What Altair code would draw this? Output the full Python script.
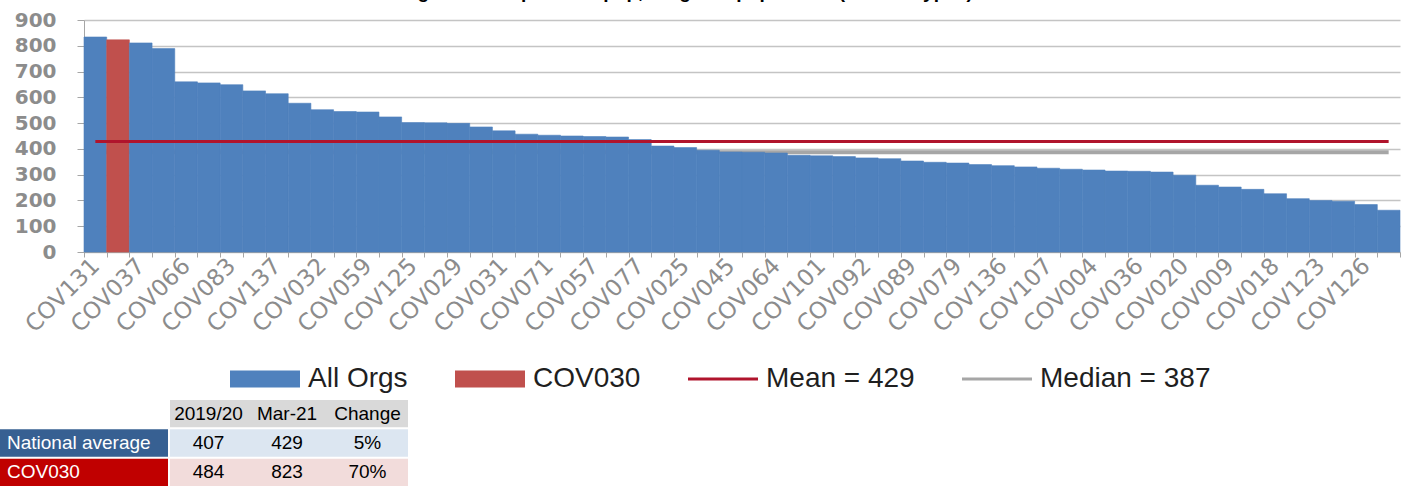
import json
import altair as alt
import pandas as pd

# ---------------- data ----------------
org_values = [834, 823, 811, 789, 660, 656, 649, 625, 614, 577,
              552, 545, 543, 524, 502, 501, 499, 485, 470, 457,
              453, 450, 448, 446, 436, 411, 405, 395, 388, 387,
              384, 375, 373, 370, 365, 362, 353, 348, 345, 339,
              335, 330, 325, 321, 318, 314, 313, 310, 298, 259,
              252, 243, 226, 207, 200, 197, 184, 162]
axis_labels = ["COV131", "COV037", "COV066", "COV083", "COV137", "COV032",
               "COV059", "COV125", "COV029", "COV031", "COV071", "COV057",
               "COV077", "COV025", "COV045", "COV064", "COV101", "COV092",
               "COV089", "COV079", "COV136", "COV107", "COV004", "COV036",
               "COV020", "COV009", "COV018", "COV123", "COV126"]
y_ticks = [0, 100, 200, 300, 400, 500, 600, 700, 800, 900]
highlight_org = "COV030"
highlight_rank = 2
mean_value = 429
median_value = 387
series_names = ["All Orgs", highlight_org, f"Mean = {mean_value}", f"Median = {median_value}"]
series_colors = ["#4F81BD", "#C0504D", "#B0142C", "#A6A6A6"]

tbl_header = ["2019/20", "Mar-21", "Change"]
tbl_rows = ["National average", highlight_org]
tbl_2019 = [407, 484]
tbl_mar21 = [429, 823]
tbl_change = ["5%", "70%"]
title_text = "Nursing caseload per 100k pop, weighted population (all staff types)"

# ---------------- layout / style ----------------
FONT = "Liberation Sans"
AXIS_FONT = "DejaVu Sans"
PLOT_W, PLOT_H = 1316, 232
Y_AXIS_EXTENT = 84
TABLE_W, TABLE_H = 408, 86
col_edges = [(0, 168), (170, 247), (247, 327), (327, 408)]
row_bg = {"h": ["none", "#D9D9D9", "#D9D9D9", "#D9D9D9"],
          "a": ["#376092", "#DCE6F1", "#DCE6F1", "#DCE6F1"],
          "b": ["#C00000", "#F2DCDB", "#F2DCDB", "#F2DCDB"]}
rect_path = "M-1,-0.243H1V0.243H-1Z"
line_path = "M-1,-0.045H1V0.045H-1Z"

# ---------------- tables for the library ----------------
n = len(org_values)
ranks = list(range(1, n + 1))
bars_df = pd.DataFrame({
    "rank": ranks,
    "value": org_values,
    "series": [series_names[1] if r == highlight_rank else series_names[0] for r in ranks],
})
mean_df = pd.DataFrame({"rank": ranks, "value": [mean_value] * n, "series": series_names[2]})
median_df = pd.DataFrame({"rank": ranks, "value": [median_value] * n, "series": series_names[3]})
all_df = pd.concat([bars_df, mean_df, median_df], ignore_index=True)

tick_text = [axis_labels[i // 2] if (i % 2 == 0 and i // 2 < len(axis_labels)) else "" for i in range(n)]
label_expr = json.dumps(tick_text) + "[datum.value - 1]"

color_scale = alt.Scale(domain=series_names, range=series_colors)
shape_scale = alt.Scale(domain=series_names, range=[rect_path, rect_path, line_path, line_path])

legend = alt.Legend(
    title=None, orient="none", legendX=146, legendY=324, direction="horizontal",
    symbolSize=4900, symbolStrokeWidth=0, symbolOpacity=1,
    labelFont=FONT, labelFontSize=28, labelColor="#1F1F1F", labelOffset=8,
    columnPadding=47, labelLimit=400,
)

x_axis = alt.Axis(
    title=None, labelExpr=label_expr, labelAngle=-45, labelAlign="right",
    labelBaseline="middle", labelFont=AXIS_FONT, labelFontSize=23, labelColor="#8C8C8C",
    labelPadding=5, labelOverlap=False, tickBand="extent", tickSize=5,
    tickColor="#A6A6A6", domainColor="#A6A6A6", grid=False,
)
y_axis = alt.Axis(
    title=None, values=y_ticks, tickCount=len(y_ticks),
    labelFont=AXIS_FONT, labelFontSize=20,
    labelFontWeight="bold", labelColor="#8C8C8C", labelOverlap=False,
    gridColor="#C4C4C4", gridWidth=1.5,
    domainColor="#A6A6A6", tickColor="#A6A6A6", tickSize=7, labelPadding=21,
    minExtent=Y_AXIS_EXTENT, maxExtent=Y_AXIS_EXTENT,
)

x_enc = alt.X("rank:O", scale=alt.Scale(paddingInner=0, paddingOuter=0), axis=x_axis)
y_enc = alt.Y("value:Q", scale=alt.Scale(domain=[y_ticks[0], y_ticks[-1]], nice=False), axis=y_axis)

legend_layer = alt.Chart(all_df).mark_point(filled=True, size=0, opacity=1).encode(
    x=x_enc, y=y_enc,
    color=alt.Color("series:N", scale=color_scale, legend=legend),
    shape=alt.Shape("series:N", scale=shape_scale, legend=legend),
)
bars_layer = alt.Chart(bars_df).mark_bar(strokeWidth=0.6).encode(
    x=x_enc, y=y_enc,
    color="series:N",
    stroke=alt.Stroke("series:N", scale=color_scale, legend=None),
)
mean_layer = alt.Chart(mean_df).mark_line(strokeWidth=3).encode(
    x=x_enc, y=y_enc, color="series:N")
median_layer = alt.Chart(median_df).mark_line(strokeWidth=4).encode(
    x=x_enc, y=y_enc, color="series:N")

main = alt.layer(legend_layer, median_layer, bars_layer, mean_layer).properties(
    width=PLOT_W, height=PLOT_H,
    title=alt.TitleParams(title_text, font=FONT, fontSize=19, fontWeight="bold",
                          color="#000000", anchor="middle", baseline="alphabetic",
                          offset=-7, dx=-77),
)

# ---------------- table ----------------
cells = []
row_keys = ["h", "a", "b"]
row_texts = [[""] + tbl_header]
for i, name in enumerate(tbl_rows):
    row_texts.append([name, str(tbl_2019[i]), str(tbl_mar21[i]), tbl_change[i]])
for rk, texts in zip(row_keys, row_texts):
    for c, (x0, x1) in enumerate(col_edges):
        is_label = (c == 0 and rk != "h")
        cells.append({
            "row": rk, "x0": x0, "x1": x1, "xc": (x0 + x1) / 2, "xl": x0 + 7,
            "text": texts[c], "bg": row_bg[rk][c],
            "fg": "#FFFFFF" if is_label else "#000000",
            "kind": "label" if is_label else "value",
        })
cells_df = pd.DataFrame(cells)

# the concat aligns plot origins; the table starts under the y-axis labels,
# so its scale begins Y_AXIS_EXTENT px left of its own origin
tx = alt.Scale(domain=[Y_AXIS_EXTENT, TABLE_W], nice=False, zero=False)
ty = alt.Scale(domain=row_keys, paddingInner=0.07, paddingOuter=0)

t_rect = alt.Chart(cells_df).transform_filter("datum.bg != 'none'").mark_rect().encode(
    x=alt.X("x0:Q", scale=tx, axis=None), x2="x1:Q",
    y=alt.Y("row:O", scale=ty, axis=None),
    fill=alt.Fill("bg:N", scale=None),
)
t_vals = alt.Chart(cells_df).transform_filter("datum.kind == 'value'").mark_text(
    font=FONT, fontSize=19, align="center", baseline="middle").encode(
    x=alt.X("xc:Q", scale=tx, axis=None), y=alt.Y("row:O", scale=ty, axis=None),
    text="text:N", color=alt.Color("fg:N", scale=None),
)
t_labels = alt.Chart(cells_df).transform_filter("datum.kind == 'label'").mark_text(
    font=FONT, fontSize=19, align="left", baseline="middle").encode(
    x=alt.X("xl:Q", scale=tx, axis=None), y=alt.Y("row:O", scale=ty, axis=None),
    text="text:N", color=alt.Color("fg:N", scale=None),
)
table = alt.layer(t_rect, t_vals, t_labels).properties(
    width=TABLE_W - Y_AXIS_EXTENT, height=TABLE_H)

chart = alt.vconcat(main, table, spacing=63).properties(
    padding={"left": 0, "top": -17, "right": 0, "bottom": 0},
    background="white",
).configure_view(stroke=None)

chart.save("out.html", embed_options={"renderer": "svg", "actions": False})
